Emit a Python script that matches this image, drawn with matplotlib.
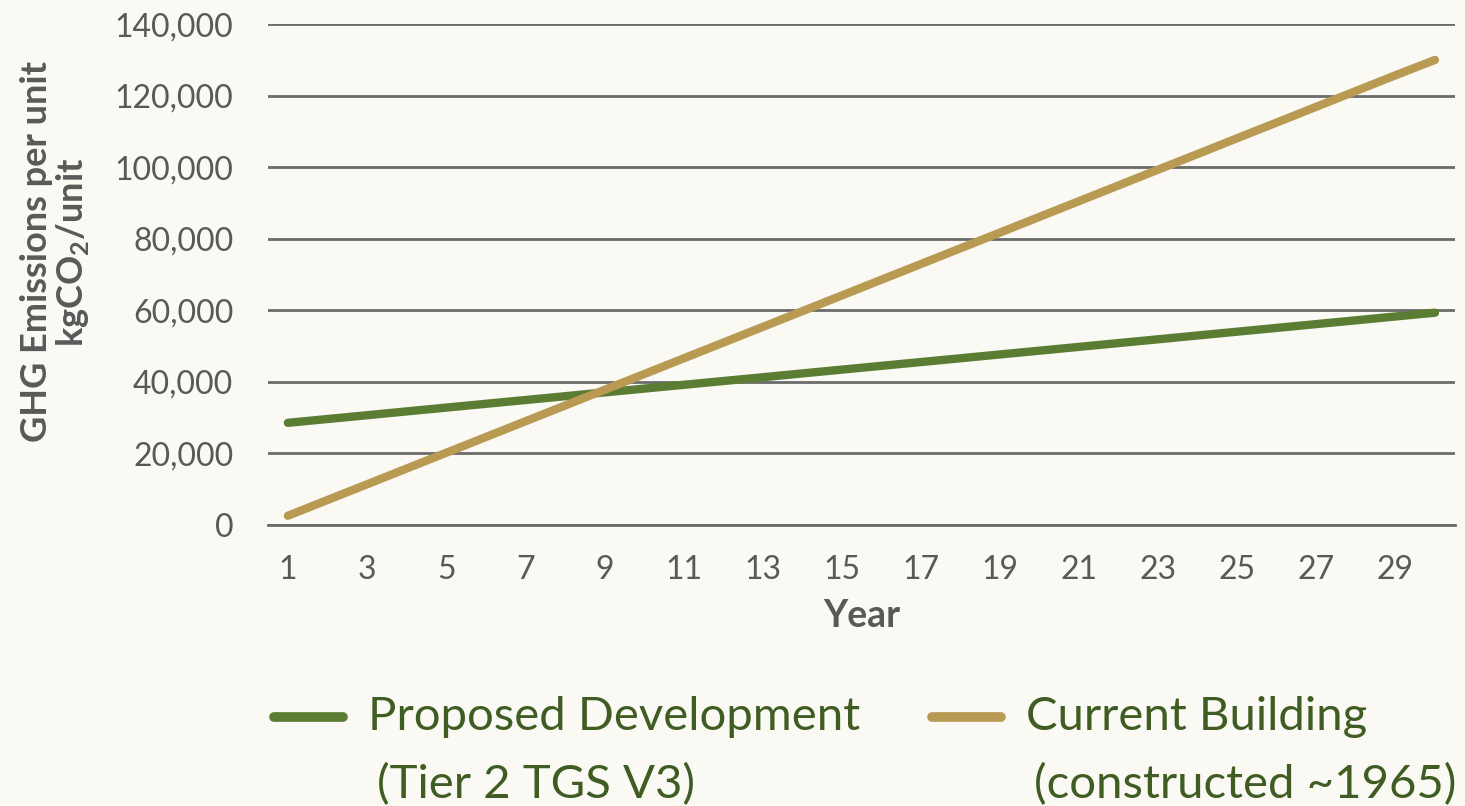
import matplotlib.pyplot as plt
from matplotlib.lines import Line2D

years = list(range(1, 31))
proposed = [28500, 29560, 30620, 31690, 32750, 33810, 34870, 35930, 37000, 38060,
            39120, 40180, 41240, 42310, 43370, 44430, 45490, 46550, 47620, 48680,
            49740, 50800, 51860, 52930, 53990, 55050, 56110, 57170, 58240, 59300]
current = [2500, 6900, 11300, 15700, 20100, 24500, 28900, 33300, 37700, 42100,
           46500, 50900, 55300, 59700, 64100, 68500, 72900, 77300, 81700, 86100,
           90500, 94900, 99300, 103700, 108100, 112500, 116900, 121300, 125700, 130000]
xticks = list(range(1, 30, 2))
yticks = list(range(0, 140001, 20000))

bg = '#faf9f4'
green = '#5b7d33'
gold = '#b99a52'
grey = '#595959'
text_green = '#3f5c22'

plt.rcParams['font.family'] = ['Lato', 'DejaVu Sans']
plt.rcParams['mathtext.fontset'] = 'custom'
plt.rcParams['mathtext.rm'] = 'Lato:bold'
plt.rcParams['mathtext.bf'] = 'Lato:bold'

fig = plt.figure(figsize=(14.65, 8.06), dpi=100, facecolor=bg)
ax = fig.add_axes([0.183, 0.349, 0.81, 0.621], facecolor=bg)

ax.plot(years, proposed, color=green, lw=6, solid_capstyle='round', zorder=3)
ax.plot(years, current, color=gold, lw=6, solid_capstyle='round', zorder=3)

ax.set_xlim(0.5, 30.5)
ax.set_ylim(0, 140000)
ax.set_yticks(yticks)
ax.set_yticklabels([f'{v:,}' for v in yticks])
ax.set_xticks(xticks)
ax.grid(axis='y', color='#6b6b6b', lw=2)
ax.set_axisbelow(True)
for s in ['top', 'right', 'left']:
    ax.spines[s].set_visible(False)
ax.spines['bottom'].set_color('#6b6b6b')
ax.spines['bottom'].set_linewidth(2)
ax.tick_params(axis='y', length=0, pad=25, labelsize=23, labelcolor=grey)
ax.tick_params(axis='x', length=0, pad=22, labelsize=23, labelcolor=grey)

ax.set_xlabel('Year', fontsize=27, fontweight='bold', color=grey, labelpad=10)
ax.set_ylabel('GHG Emissions per unit\nkgCO$_2$/unit', fontsize=26, fontweight='bold',
              color=grey, linespacing=1.05)
ax.yaxis.set_label_coords(-0.149, 0.545)

# legend drawn by hand so the swatch lines up with the first line of text
entries = [('Proposed Development', '(Tier 2 TGS V3)', green, 0.187),
           ('Current Building', '(constructed ~1965)', gold, 0.636)]
for first, second, col, x0 in entries:
    fig.add_artist(Line2D([x0, x0 + 0.047], [0.110, 0.110], transform=fig.transFigure,
                          color=col, lw=7, solid_capstyle='round'))
    fig.text(x0 + 0.064, 0.110, first, fontsize=34, color=text_green, va='center')
    fig.text(x0 + 0.070, 0.026, second, fontsize=34, color=text_green, va='center')

plt.savefig('out.png', dpi=100, facecolor=bg)
